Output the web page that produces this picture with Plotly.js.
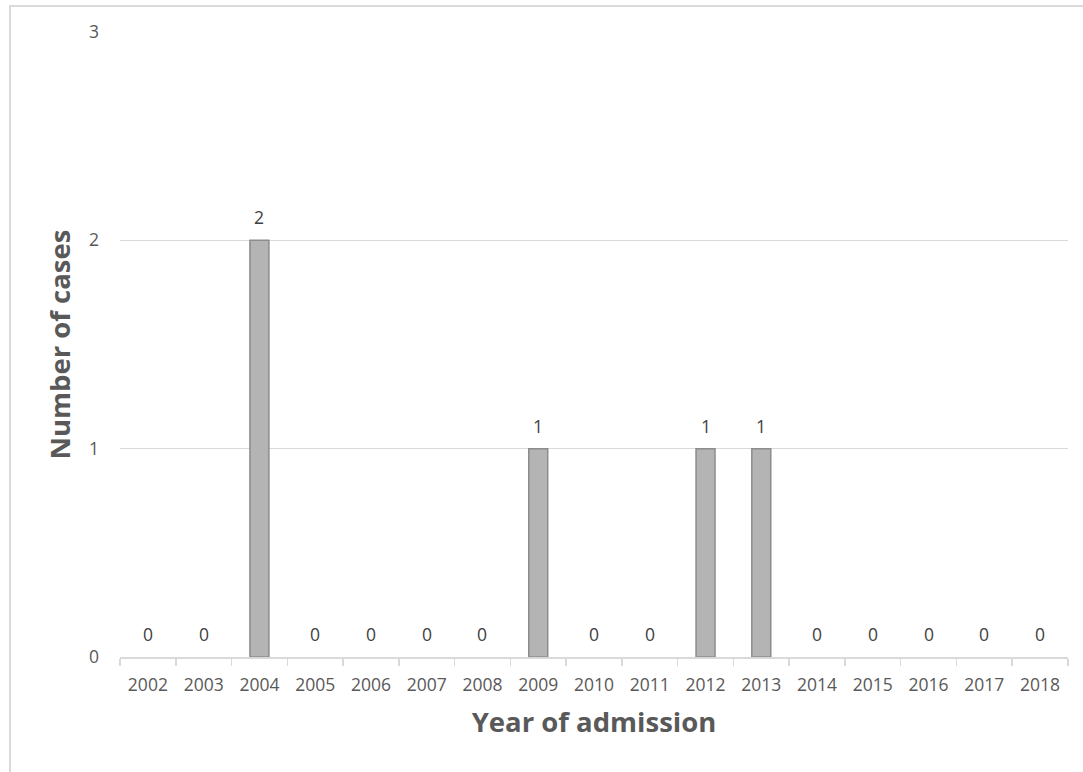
<!DOCTYPE html>
<html>
<head>
<meta charset="utf-8">
<script src="https://cdn.plot.ly/plotly-3.0.1.min.js"></script>
<style>
  html, body { margin: 0; padding: 0; background: #ffffff; }
  #frame { position: absolute; left: 9px; top: 5px; width: 1074px; height: 767px;
           border-top: 2px solid #d9d9d9; border-left: 2px solid #d9d9d9; box-sizing: border-box; }
  #chart { position: absolute; left: 0; top: 0; width: 1083px; height: 772px; }
</style>
</head>
<body>
<div id="frame"></div>
<div id="chart"></div>
<script>
// Admissions per year
const years = ['2002','2003','2004','2005','2006','2007','2008','2009','2010',
               '2011','2012','2013','2014','2015','2016','2017','2018'];
const cases = [0, 0, 2, 0, 0, 0, 0, 1, 0, 0, 1, 1, 0, 0, 0, 0, 0];
const yTicks = [0, 1, 2, 3];

const grey = '#595959';
const fontFamily = 'Open Sans, Liberation Sans, sans-serif';

const bars = {
  type: 'bar',
  x: years,
  y: cases,
  marker: {
    color: '#b4b4b4',
    // no outline on empty years, so nothing is drawn on the baseline
    line: { color: '#8c8c8c', width: cases.map(v => (v > 0 ? 1.5 : 0)) }
  },
  hoverinfo: 'x+y'
};

// value labels sit just above each bar (category axis: position by serial index)
const labels = years.map((yr, i) => ({
  x: i, y: cases[i], xref: 'x', yref: 'y',
  text: String(cases[i]), showarrow: false,
  yshift: 23, font: { family: fontFamily, size: 17.5, color: '#404040' }
}));

const layout = {
  width: 1083, height: 772,
  margin: { l: 120, r: 15, t: 32, b: 115 },
  paper_bgcolor: 'rgba(0,0,0,0)',
  plot_bgcolor: 'rgba(0,0,0,0)',
  bargap: 0.66,
  showlegend: false,
  annotations: labels,
  xaxis: {
    type: 'category',
    range: [-0.5, years.length - 0.5],
    showline: true, linecolor: '#d9d9d9', linewidth: 1.5,
    ticks: 'outside', tickson: 'boundaries', ticklen: 7, tickcolor: '#d9d9d9', tickwidth: 1.5,
    tickfont: { family: fontFamily, size: 17.5, color: grey },
    tickangle: 0,
    ticklabelstandoff: 11,
    showgrid: false,
    title: { text: 'Year of admission', standoff: 18,
             font: { family: fontFamily, size: 27.5, color: grey, weight: 'bold' } }
  },
  yaxis: {
    range: [0, 3],
    tickvals: yTicks,
    ticktext: yTicks.map(String),
    showline: false, zeroline: false,
    showgrid: true, gridcolor: '#d9d9d9', gridwidth: 1.5,
    tickfont: { family: fontFamily, size: 17.5, color: grey },
    ticklabelstandoff: 20,
    title: { text: 'Number of cases', standoff: 10,
             font: { family: fontFamily, size: 27.5, color: grey, weight: 'bold' } }
  }
};

Plotly.newPlot('chart', [bars], layout, { displayModeBar: false, staticPlot: true });
</script>
</body>
</html>
